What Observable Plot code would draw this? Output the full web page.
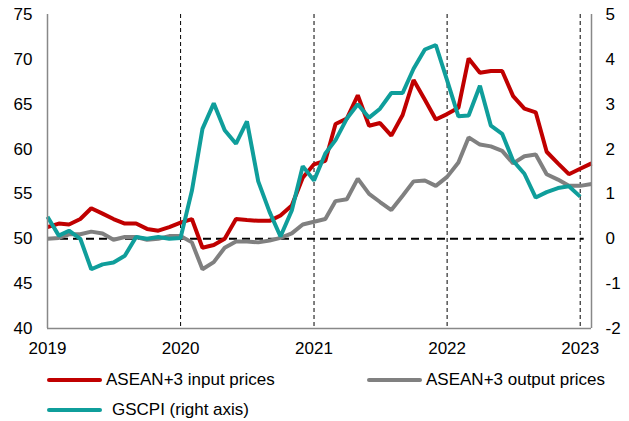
<!DOCTYPE html>
<html>
<head>
<meta charset="utf-8">
<script src="https://cdn.jsdelivr.net/npm/d3@7"></script>
<script src="https://cdn.jsdelivr.net/npm/@observablehq/plot@0.6"></script>
<style>
  html, body { margin: 0; padding: 0; background: #fff; }
  body { width: 629px; height: 421px; position: relative; overflow: hidden;
         font-family: "Liberation Sans", Arial, sans-serif; }
  #chart { position: absolute; left: 0; top: 0; }
  .legend { position: absolute; left: 0; top: 0; font-size: 17px; color: #000; }
  .item { position: absolute; display: flex; align-items: center; white-space: nowrap; }
  .sw { display: inline-block; width: 55px; height: 4px; border-radius: 2px; }
</style>
</head>
<body>
<div id="chart"></div>
<div class="legend" id="legend"></div>
<script>
// ---- Data (monthly, Jan 2019 onward) ----
const startYear = 2019;
const inputPrices = [51.3, 51.7, 51.6, 52.2, 53.4, 52.8, 52.2, 51.7, 51.7, 51.1,
  50.9, 51.3, 51.8, 52.2, 49.0, 49.3, 50.0, 52.2, 52.1, 52.0,
  52.0, 52.6, 53.7, 56.8, 58.3, 58.7, 62.8, 63.4, 66.0, 62.6,
  62.9, 61.5, 63.8, 67.7, 65.5, 63.3, 63.9, 64.6, 70.1, 68.5,
  68.7, 68.7, 65.9, 64.5, 64.1, 59.7, 58.4, 57.2, 57.8, 58.4];
const outputPrices = [50.0, 50.1, 50.5, 50.5, 50.8, 50.6, 49.9, 50.2, 50.2, 49.9,
  50.0, 50.3, 50.3, 49.6, 46.6, 47.4, 49.0, 49.7, 49.7, 49.6,
  49.8, 50.1, 50.6, 51.6, 51.9, 52.2, 54.2, 54.4, 56.7, 55.0,
  54.1, 53.2, 54.8, 56.4, 56.5, 55.9, 56.9, 58.5, 61.3, 60.5,
  60.3, 59.8, 58.4, 59.2, 59.4, 57.2, 56.6, 55.9, 55.9, 56.1];
const gscpi = [0.49, 0.07, 0.18, 0.0, -0.68, -0.57, -0.53, -0.38, 0.04, 0.0,
  0.04, 0.0, 0.02, 1.07, 2.45, 3.02, 2.42, 2.12, 2.62, 1.28,
  0.6, 0.05, 0.63, 1.62, 1.3, 1.9, 2.2, 2.68, 3.0, 2.7,
  2.9, 3.25, 3.25, 3.79, 4.22, 4.32, 3.53, 2.73, 2.75, 3.41,
  2.52, 2.34, 1.74, 1.45, 0.92, 1.04, 1.13, 1.17, 0.94];
const years = [2019, 2020, 2021, 2022, 2023];
const leftTicks = [40, 45, 50, 55, 60, 65, 70, 75];
const rightTicks = [-2, -1, 0, 1, 2, 3, 4, 5];
const seriesNames = ["ASEAN+3 input prices", "ASEAN+3 output prices", "GSCPI (right axis)"];
const colors = ["#C00000", "#808080", "#0F9E9B"];

// ---- Build ----
const month = i => new Date(Date.UTC(startYear, i, 1));
const toLeft = v => 50 + 5 * v; // right axis: 0 ↔ 50, 1 unit ↔ 5
const rows = (arr, name) => arr.map((v, i) => ({date: month(i), value: v, name}));
const inData = rows(inputPrices, seriesNames[0]);
const outData = rows(outputPrices, seriesNames[1]);
const gData = rows(gscpi, seriesNames[2]);
const yearDates = years.map(y => new Date(Date.UTC(y, 0, 1)));
const xDomain = [month(0), month(inputPrices.length - 1)];
const zeroLineEnd = new Date(Date.UTC(years[years.length - 1], 0, 12));

const fontSize = 17;
const chart = Plot.plot({
  width: 629,
  height: 362,
  marginLeft: 47,
  marginRight: 38,
  marginTop: 14,
  marginBottom: 34,
  style: {fontFamily: '"Liberation Sans", Arial, sans-serif', fontSize: fontSize + "px", color: "#000", background: "#fff"},
  x: {type: "utc", domain: xDomain},
  y: {domain: [leftTicks[0], leftTicks[leftTicks.length - 1]]},
  marks: [
    Plot.ruleX(yearDates.slice(1), {stroke: "#000", strokeWidth: 1, strokeDasharray: "4,3"}),
    Plot.ruleY([50], {x1: xDomain[0], x2: zeroLineEnd, stroke: "#000", strokeWidth: 2, strokeDasharray: "8,5"}),
    Plot.line(outData, {x: "date", y: "value", stroke: colors[1], strokeWidth: 4, strokeLinejoin: "miter", strokeLinecap: "butt"}),
    Plot.line(inData, {x: "date", y: "value", stroke: colors[0], strokeWidth: 4, strokeLinejoin: "miter", strokeLinecap: "butt"}),
    Plot.line(gData, {x: "date", y: d => toLeft(d.value), stroke: colors[2], strokeWidth: 4, strokeLinejoin: "miter", strokeLinecap: "butt"}),
    Plot.ruleX([xDomain[0], xDomain[1]], {stroke: "#888", strokeWidth: 1.5}),
    Plot.ruleY([leftTicks[0]], {stroke: "#888", strokeWidth: 1.5}),
    Plot.axisY({anchor: "left", ticks: leftTicks, tickSize: 0, tickPadding: 15, label: null, fontSize}),
    Plot.axisY({anchor: "right", ticks: rightTicks.map(toLeft), tickFormat: d => String((d - 50) / 5), tickSize: 0, tickPadding: 14, label: null, fontSize}),
    Plot.axisX({ticks: yearDates, tickFormat: d => String(d.getUTCFullYear()), tickSize: 0, tickPadding: 13, label: null, fontSize})
  ]
});
document.getElementById("chart").appendChild(chart);

// ---- Legend (below the SVG) ----
const legendPos = [[47, 380], [367, 380], [47, 410]];
const textGap = [4, 4, 10];
const legend = document.getElementById("legend");
seriesNames.forEach((n, i) => {
  const it = document.createElement("div");
  it.className = "item";
  it.style.left = legendPos[i][0] + "px";
  it.style.top = (legendPos[i][1] - 10) + "px";
  it.style.height = "20px";
  const sw = document.createElement("span");
  sw.className = "sw";
  sw.style.background = colors[i];
  sw.style.marginRight = textGap[i] + "px";
  const t = document.createElement("span");
  t.textContent = n;
  it.appendChild(sw); it.appendChild(t);
  legend.appendChild(it);
});
</script>
</body>
</html>
